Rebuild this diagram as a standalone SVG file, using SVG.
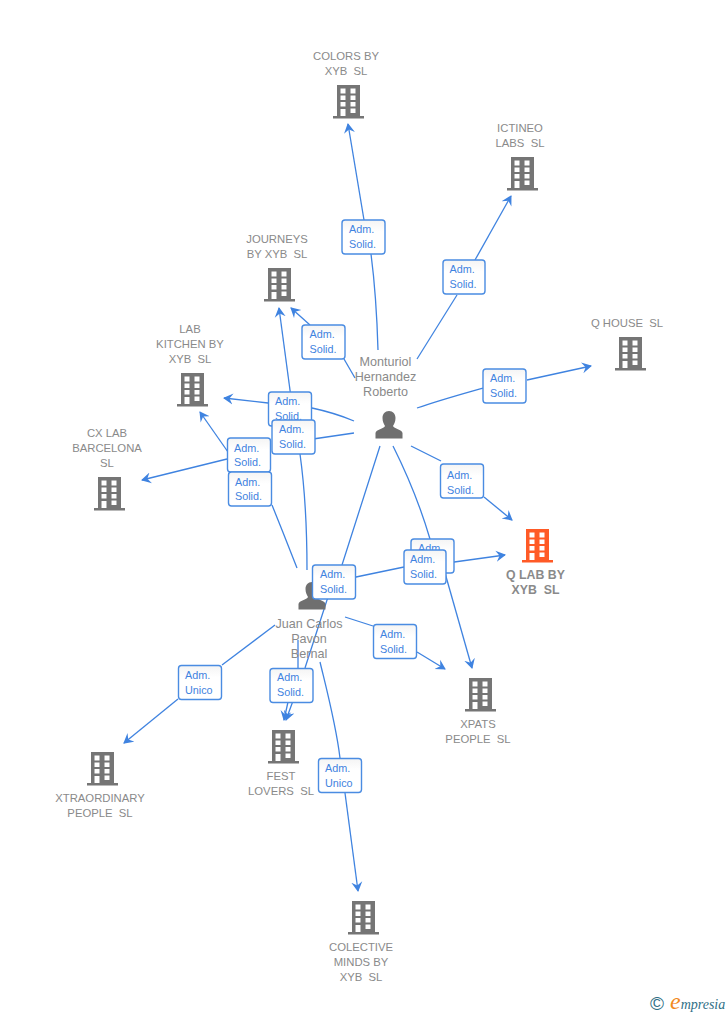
<svg xmlns="http://www.w3.org/2000/svg" width="728" height="1015" viewBox="0 0 728 1015">
<style>
text{font-family:"Liberation Sans",Arial,sans-serif;white-space:pre}
.n{font-size:11.300px;fill:#8a8a8a;text-anchor:middle}
.b{font-weight:bold;font-size:12.300px}
.p{font-size:12.600px;fill:#8a8a8a;text-anchor:middle}
.l{fill:none;stroke:#3f83e0;stroke-width:1.3}
.a{marker-end:url(#arr)}
.box{fill:url(#g);stroke:#4a8ce2;stroke-width:1.4}
.t{font-size:10.800px;fill:#3f83e0}
</style>
<defs>
<linearGradient id="g" x1="0" y1="0" x2="0" y2="1"><stop offset="0" stop-color="#f4f4f4"/><stop offset=".35" stop-color="#fff"/></linearGradient>
<marker id="arr" markerUnits="userSpaceOnUse" markerWidth="14" markerHeight="14" refX="9" refY="6" orient="auto"><path d="M0 0.500L10 6L0 11.500L3.500 6Z" fill="#3f83e0"/></marker>
<symbol id="bld" width="32" height="34" viewBox="0 0 32 34" overflow="visible"><path fill-rule="evenodd" d="M4 0H27V31H31V33.500H0V31H4ZM7.500 3.500V8.500H12.500V3.500ZM17.500 3.500V8.500H22.500V3.500ZM7.500 10.500V15H12.500V10.500ZM17.500 10.500V15H22.500V10.500ZM7.500 17V21.500H12.500V17ZM17.500 17V21.500H22.500V17ZM7.500 24V31H12.500V24ZM17.500 23.500V28H22.500V23.500Z"/></symbol>
<symbol id="per" width="28" height="28" viewBox="0 0 28 28"><path fill="#6f6f6f" d="M14 0C18 0 20.500 3 20.500 7C20.500 11 19 13 18 15C19 18 27 18.500 27.500 22V27.500H0.500V22C1 18.500 9 18 10 15C9 13 7.500 11 7.500 7C7.500 3 10 0 14 0Z"/></symbol>
</defs>
<rect width="728" height="1015" fill="#fff"/>
<g id="connectors">
<path class="l" d="M378 350C377 315 375 285 371 254"/><path class="l a" d="M364 220L348 124"/>
<path class="l" d="M417 359L457 295"/><path class="l a" d="M475 260L511 196"/>
<path class="l" d="M355 378L344 359"/><path class="l a" d="M310 325L291 308"/>
<path class="l" d="M417 408C440 400 462 394 483 388"/><path class="l a" d="M527 380L591 366"/>
<path class="l" d="M354 421C340 415 326 411 312 408"/><path class="l a" d="M268 403L224 398"/>
<path class="l" d="M354 433L272 445"/><path class="l a" d="M227 459L142 480"/>
<path class="l" d="M307 570C307 530 305 490 300 454"/><path class="l a" d="M294 420L279 308"/>
<path class="l" d="M297 568C290 550 280 525 272 505"/><path class="l a" d="M242 472L200 412"/>
<path class="l" d="M411 446L441 461"/><path class="l a" d="M484 497L512 520"/>
<path class="l" d="M393 446C405 470 420 505 430 539"/><path class="l a" d="M445 573L472 668"/>
<path class="l a" d="M380 446L342 565L327 600L305 668L286 720"/>
<path class="l" d="M330 584L356 577L404 567"/><path class="l a" d="M447 563L505 555"/>
<path class="l" d="M345 617L373 626"/><path class="l a" d="M417 652L445 669"/>
<path class="l" d="M298 640V668"/><path class="l a" d="M288 702L284 720"/>
<path class="l" d="M275 625L222 665"/><path class="l a" d="M178 699L124 743"/>
<path class="l" d="M320 662C328 695 336 725 340 758"/><path class="l a" d="M345 793L358 891"/>
</g>
<g id="node-colors"><use href="#bld" x="333" y="85" fill="#757575"/><text class="n" x="346" y="60">COLORS BY</text><text class="n" x="346" y="75">XYB  SL</text></g>
<g id="node-ictineo"><use href="#bld" x="507" y="157" fill="#757575"/><text class="n" x="520" y="132">ICTINEO</text><text class="n" x="520" y="147">LABS  SL</text></g>
<g id="node-journeys"><use href="#bld" x="264" y="268" fill="#757575"/><text class="n" x="277" y="243">JOURNEYS</text><text class="n" x="277" y="258">BY XYB  SL</text></g>
<g id="node-qhouse"><use href="#bld" x="615" y="337" fill="#757575"/><text class="n" x="627" y="327">Q HOUSE  SL</text></g>
<g id="node-labkitchen"><use href="#bld" x="177" y="373" fill="#757575"/><text class="n" x="190" y="333">LAB</text><text class="n" x="190" y="348">KITCHEN BY</text><text class="n" x="190" y="363">XYB  SL</text></g>
<g id="node-cxlab"><use href="#bld" x="94" y="477" fill="#757575"/><text class="n" x="107" y="437">CX LAB</text><text class="n" x="107" y="452">BARCELONA</text><text class="n" x="107" y="467">SL</text></g>
<g id="node-qlab"><use href="#bld" x="522" y="529" fill="#ff5a26"/><text class="n b" x="535.500" y="579">Q LAB BY</text><text class="n b" x="535.500" y="594">XYB  SL</text></g>
<g id="node-xpats"><use href="#bld" x="465" y="678" fill="#757575"/><text class="n" x="478" y="728">XPATS</text><text class="n" x="478" y="743">PEOPLE  SL</text></g>
<g id="node-fest"><use href="#bld" x="268" y="730" fill="#757575"/><text class="n" x="281" y="780">FEST</text><text class="n" x="281" y="795">LOVERS  SL</text></g>
<g id="node-xtraordinary"><use href="#bld" x="87" y="752" fill="#757575"/><text class="n" x="100" y="802">XTRAORDINARY</text><text class="n" x="100" y="817">PEOPLE  SL</text></g>
<g id="node-colective"><use href="#bld" x="348" y="901" fill="#757575"/><text class="n" x="361" y="951">COLECTIVE</text><text class="n" x="361" y="966">MINDS BY</text><text class="n" x="361" y="981">XYB  SL</text></g>
<g id="node-monturiol"><use href="#per" x="375" y="411"/><text class="p" x="385.500" y="366">Monturiol</text><text class="p" x="385.500" y="381">Hernandez</text><text class="p" x="385.500" y="396">Roberto</text></g>
<g id="node-juan"><use href="#per" x="298" y="582"/><text class="p" x="309" y="628">Juan Carlos</text><text class="p" x="309" y="643">Pavon</text><text class="p" x="309" y="658">Bernal</text></g>
<g id="labels">
<g><rect class="box" x="342" y="220" width="43" height="34" rx="3"/><text class="t" x="349" y="233">Adm.</text><text class="t" x="349" y="248">Solid.</text></g>
<g><rect class="box" x="443" y="260" width="42" height="34" rx="3"/><text class="t" x="449.500" y="273">Adm.</text><text class="t" x="449.500" y="288">Solid.</text></g>
<g><rect class="box" x="302" y="325" width="43" height="34" rx="3"/><text class="t" x="309.500" y="338">Adm.</text><text class="t" x="309.500" y="353">Solid.</text></g>
<g><rect class="box" x="483" y="369" width="43" height="34" rx="3"/><text class="t" x="490" y="382">Adm.</text><text class="t" x="490" y="397">Solid.</text></g>
<g><rect class="box" x="268.500" y="392" width="43" height="34" rx="3"/><text class="t" x="275" y="405">Adm.</text><text class="t" x="275" y="420">Solid.</text></g>
<g><rect class="box" x="272" y="420" width="43" height="34" rx="3"/><text class="t" x="279" y="433">Adm.</text><text class="t" x="279" y="448">Solid.</text></g>
<g><rect class="box" x="227.500" y="438" width="43" height="34" rx="3"/><text class="t" x="234" y="452">Adm.</text><text class="t" x="234" y="466">Solid.</text></g>
<g><rect class="box" x="228.500" y="472" width="43" height="34" rx="3"/><text class="t" x="235" y="486">Adm.</text><text class="t" x="235" y="500">Solid.</text></g>
<g><rect class="box" x="440.500" y="464" width="43" height="34" rx="3"/><text class="t" x="447" y="479">Adm.</text><text class="t" x="447" y="494">Solid.</text></g>
<g><rect class="box" x="411" y="539" width="43" height="34" rx="3"/><text class="t" x="418" y="552">Adm.</text></g>
<g><rect class="box" x="404" y="550" width="42" height="34" rx="3"/><text class="t" x="410" y="563">Adm.</text><text class="t" x="410" y="578">Solid.</text></g>
<g><rect class="box" x="312.500" y="565" width="43" height="34" rx="3"/><text class="t" x="320" y="578">Adm.</text><text class="t" x="320" y="593">Solid.</text></g>
<g><rect class="box" x="373.500" y="624.500" width="43" height="34" rx="3"/><text class="t" x="380" y="638">Adm.</text><text class="t" x="380" y="653">Solid.</text></g>
<g><rect class="box" x="178.500" y="665.500" width="43" height="34" rx="3"/><text class="t" x="185" y="679">Adm.</text><text class="t" x="185" y="694">Unico</text></g>
<g><rect class="box" x="270" y="668.500" width="43" height="34" rx="3"/><text class="t" x="277" y="681">Adm.</text><text class="t" x="277" y="696">Solid.</text></g>
<g><rect class="box" x="318.500" y="758.500" width="43" height="34" rx="3"/><text class="t" x="325" y="772">Adm.</text><text class="t" x="325" y="787">Unico</text></g>
</g>
<g id="logo"><text x="650" y="1010" font-size="19" fill="#2f6f86">©</text><text x="670" y="1009" style="font-family:'Liberation Serif',serif;font-style:italic" font-size="14" fill="#2f6f86"><tspan font-size="24" fill="#f28a1e">e</tspan>mpresia</text></g>
</svg>
